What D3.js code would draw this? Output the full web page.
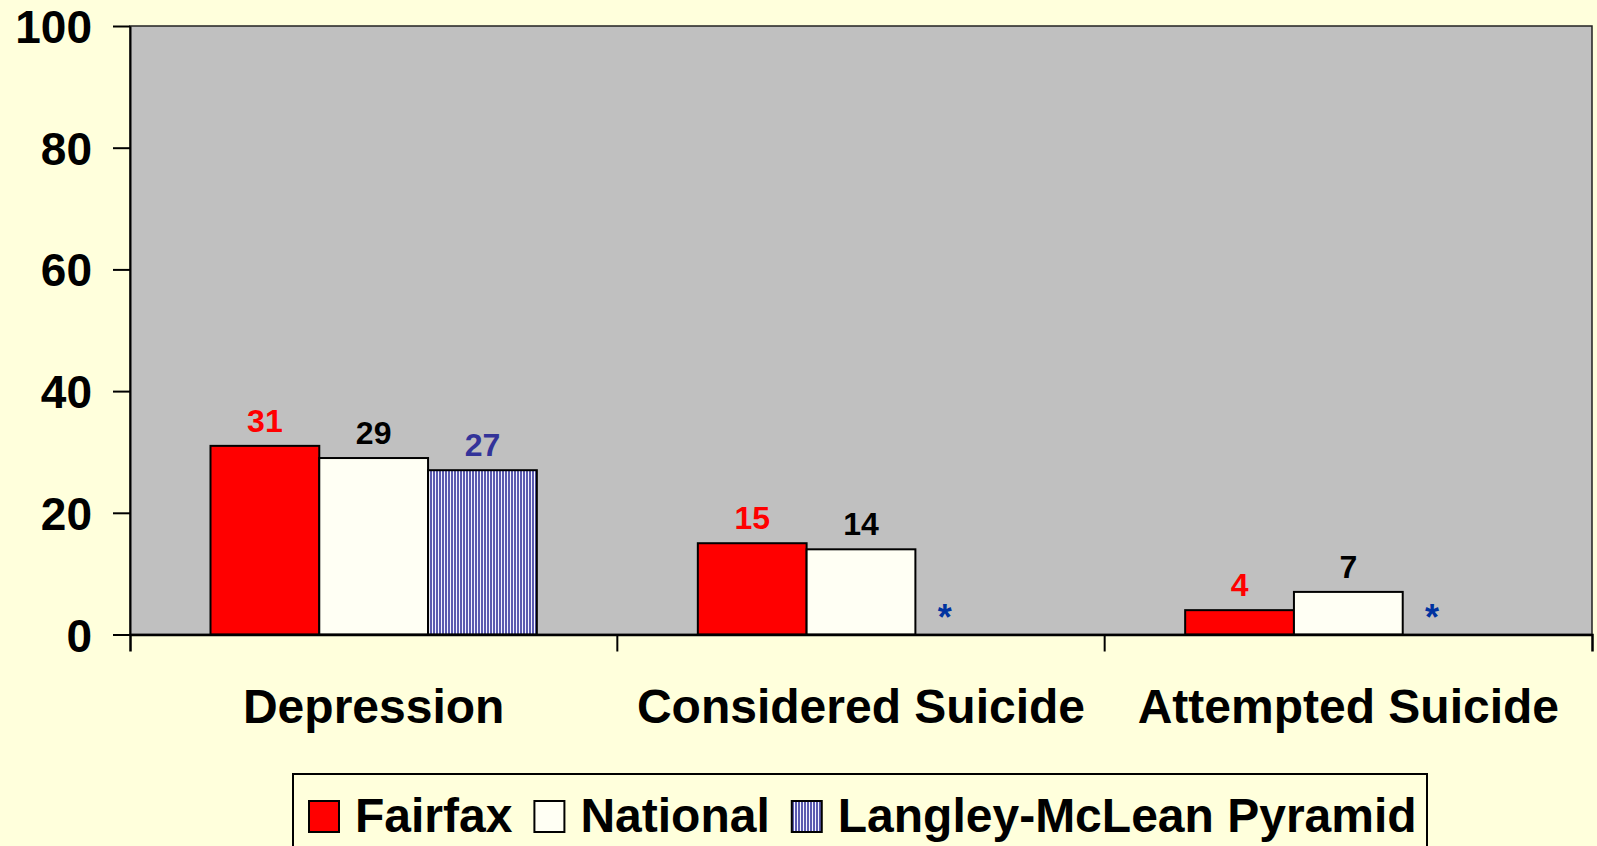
<!DOCTYPE html>
<html>
<head>
<meta charset="utf-8">
<script src="https://cdn.jsdelivr.net/npm/d3@7"></script>
<style>
  html, body { margin: 0; padding: 0; background: #FFFFDC; }
  svg { display: block; }
  text { font-family: "Liberation Sans", Arial, sans-serif; font-weight: bold; }
</style>
</head>
<body>
<div id="chart"></div>
<script>
// chart values
var categories = ["Depression", "Considered Suicide", "Attempted Suicide"];
var seriesNames = ["Fairfax", "National", "Langley-McLean Pyramid"];
var fairfax = [31, 15, 4];
var national = [29, 14, 7];
var langley = [27, null, null];   // no pyramid figure -> shown as "*"
var yTicks = [0, 20, 40, 60, 80, 100];

var ctx = {
    w: 1597,
    h: 846,
    left: 130,
    right: 1592,
    top: 26,
    bottom: 634.5,
    bg: "#FFFFDC",
    plotBg: "#C0C0C0",
};

var seriesStyle = {
    "Fairfax": { fill: "#FF0000", label: "#FF0000" },
    "National": { fill: "#FFFFF4", label: "#000000" },
    "Langley-McLean Pyramid": { fill: "url(#stripes)", label: "#333399" },
};

var svg = d3.select("#chart").append("svg")
    .attr("width", ctx.w)
    .attr("height", ctx.h);

// vertical stripe fill for the pyramid series
var pat = svg.append("defs").append("pattern")
    .attr("id", "stripes")
    .attr("patternUnits", "userSpaceOnUse")
    .attr("width", 3)
    .attr("height", 10);
pat.append("rect").attr("width", 3).attr("height", 10).attr("fill", "#F4F4FF");
pat.append("rect").attr("width", 2).attr("height", 10).attr("fill", "#5A5AB0");

svg.append("rect")
    .attr("width", ctx.w)
    .attr("height", ctx.h)
    .attr("fill", ctx.bg);

var y = d3.scaleLinear()
    .domain([0, 100])
    .range([ctx.bottom, ctx.top]);

var x = d3.scaleBand()
    .domain(categories)
    .range([ctx.left, ctx.right]);

var xInner = d3.scaleBand()
    .domain(seriesNames)
    .range([0, x.bandwidth()])
    .paddingInner(0)
    .paddingOuter(0.74);

// plot area
svg.append("rect")
    .attr("x", ctx.left)
    .attr("y", ctx.top)
    .attr("width", ctx.right - ctx.left)
    .attr("height", ctx.bottom - ctx.top)
    .attr("fill", ctx.plotBg)
    .attr("stroke", "#222")
    .attr("stroke-width", 1.5);

// rows: one per category
var rows = categories.map(function(c, i) {
    return { cat: c, values: [fairfax[i], national[i], langley[i]] };
});

var groups = svg.selectAll(".group")
    .data(rows)
    .enter()
    .append("g")
    .attr("class", "group")
    .attr("transform", d => "translate(" + x(d.cat) + ",0)");

var cells = groups.selectAll(".cell")
    .data(d => d.values.map((v, j) => ({ name: seriesNames[j], value: v })))
    .enter()
    .append("g");

cells.filter(d => d.value !== null)
    .append("rect")
    .attr("x", d => xInner(d.name))
    .attr("y", d => y(d.value))
    .attr("width", xInner.bandwidth())
    .attr("height", d => y(0) - y(d.value))
    .attr("fill", d => seriesStyle[d.name].fill)
    .attr("stroke", "#000")
    .attr("stroke-width", 2);

cells.filter(d => d.value !== null)
    .append("text")
    .attr("x", d => xInner(d.name) + xInner.bandwidth() / 2)
    .attr("y", d => y(d.value) - 14)
    .attr("text-anchor", "middle")
    .attr("font-size", "32px")
    .attr("fill", d => seriesStyle[d.name].label)
    .text(d => d.value);

cells.filter(d => d.value === null)
    .append("text")
    .attr("x", d => xInner(d.name) + xInner.bandwidth() * 0.27)
    .attr("y", y(0) - 5)
    .attr("text-anchor", "middle")
    .attr("font-size", "36px")
    .attr("fill", "#0033A0")
    .text("*");

// y axis
var yAxis = svg.append("g")
    .attr("transform", "translate(" + ctx.left + ",0)")
    .call(d3.axisLeft(y).tickValues(yTicks).tickSize(17).tickSizeOuter(0).tickPadding(21));
yAxis.select(".domain").attr("stroke", "#000").attr("stroke-width", 2);
yAxis.selectAll(".tick line").attr("stroke", "#000").attr("stroke-width", 2);
yAxis.selectAll(".tick text")
    .attr("font-size", "46px")
    .attr("font-family", "'Liberation Sans', Arial, sans-serif")
    .attr("font-weight", "bold")
    .attr("fill", "#000")
    .attr("dy", "0.36em");

// x axis: line with ticks at category boundaries
var xAxis = svg.append("g")
    .attr("transform", "translate(0," + ctx.bottom + ")")
    .call(d3.axisBottom(x).tickValues([]).tickSizeOuter(17));
xAxis.select(".domain").attr("stroke", "#000").attr("stroke-width", 2.5);

xAxis.selectAll(".sep")
    .data(categories.slice(1))
    .enter()
    .append("line")
    .attr("x1", d => x(d))
    .attr("x2", d => x(d))
    .attr("y1", 0)
    .attr("y2", 17)
    .attr("stroke", "#000")
    .attr("stroke-width", 2);

svg.selectAll(".catLabel")
    .data(categories)
    .enter()
    .append("text")
    .attr("class", "catLabel")
    .attr("x", d => x(d) + x.bandwidth() / 2)
    .attr("y", 723)
    .attr("text-anchor", "middle")
    .attr("font-size", "48px")
    .attr("fill", "#000")
    .text(d => d);

// legend
var legend = svg.append("g");
legend.append("rect")
    .attr("x", 293)
    .attr("y", 774)
    .attr("width", 1427 - 293)
    .attr("height", 100)
    .attr("fill", ctx.bg)
    .attr("stroke", "#000")
    .attr("stroke-width", 2);

var lx = 309;
seriesNames.forEach(function(name) {
    legend.append("rect")
        .attr("x", lx)
        .attr("y", 801)
        .attr("width", 30)
        .attr("height", 31)
        .attr("fill", seriesStyle[name].fill)
        .attr("stroke", "#000")
        .attr("stroke-width", 2);
    var t = legend.append("text")
        .attr("x", lx + 46)
        .attr("y", 832)
        .attr("font-size", "48px")
        .attr("fill", "#000")
        .text(name);
    lx = lx + 46 + t.node().getComputedTextLength() + 22;
});
</script>
</body>
</html>
